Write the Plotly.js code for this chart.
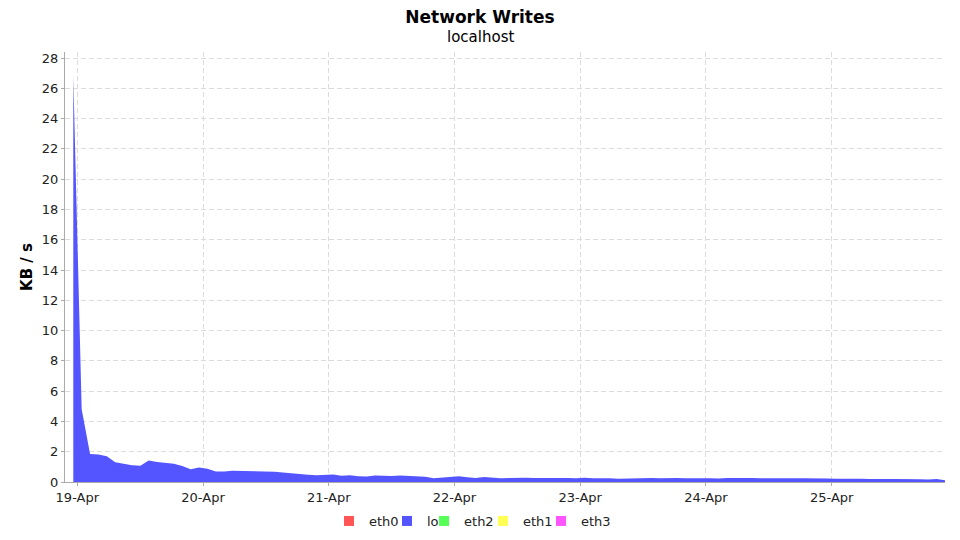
<!DOCTYPE html>
<html>
<head>
<meta charset="utf-8">
<script src="https://cdn.plot.ly/plotly-3.0.1.min.js"></script>
<style>html,body{margin:0;padding:0;background:#fff;}#chart{width:960px;height:540px;}</style>
</head>
<body>
<div id="chart"></div>
<script>
// Sampling grid: first sample time and interval (minutes)
var startTime = '2013-04-18T23:14:00';
var stepMinutes = 96;

// Series names and colours (legend order)
var seriesNames = ['eth0', 'lo', 'eth2', 'eth1', 'eth3'];
var seriesColors = ['#FF5555', '#5555FF', '#55FF55', '#FFFF55', '#FF55FF'];

// lo write rate, KB/s
var loValues = [
  26.8, 4.8, 1.85, 1.82, 1.7, 1.3, 1.2, 1.1, 1.08, 1.42,
  1.32, 1.27, 1.2, 1.05, 0.84, 0.95, 0.88, 0.7, 0.7, 0.75,
  0.74, 0.72, 0.72, 0.7, 0.68, 0.62, 0.56, 0.52, 0.48, 0.45,
  0.47, 0.5, 0.42, 0.44, 0.38, 0.36, 0.43, 0.4, 0.39, 0.43,
  0.4, 0.38, 0.35, 0.25, 0.3, 0.34, 0.38, 0.31, 0.26, 0.33,
  0.27, 0.25, 0.27, 0.3, 0.28, 0.27, 0.28, 0.26, 0.29, 0.27,
  0.25, 0.28, 0.24, 0.26, 0.25, 0.22, 0.24, 0.27, 0.25, 0.27,
  0.25, 0.27, 0.26, 0.25, 0.26, 0.24, 0.25, 0.23, 0.27, 0.26,
  0.24, 0.26, 0.25, 0.26, 0.24, 0.26, 0.25, 0.24, 0.22, 0.2,
  0.23, 0.22, 0.2, 0.22, 0.21, 0.2, 0.22, 0.2, 0.19, 0.2,
  0.22, 0.18, 0.17, 0.19, 0.12
];

// Text
var chartTitle = 'Network Writes';
var chartSubtitle = 'localhost';
var yTitle = 'KB / s';

// Axis settings
var xRange = ['2013-04-18 21:39', '2013-04-25 21:38'];
var yRange = [0, 28.4];

function fmt(d) {
  return d.toISOString().slice(0, 19).replace('T', ' ');
}
var t0 = new Date(startTime + 'Z').getTime();
var times = loValues.map(function (_, i) { return fmt(new Date(t0 + i * stepMinutes * 60000)); });

var traces = [];
traces.push({
  x: times, y: loValues, type: 'scatter', mode: 'lines',
  fill: 'tozeroy', fillcolor: seriesColors[1],
  line: {color: seriesColors[1], width: 0},
  name: 'lo', showlegend: false, hoverinfo: 'x+y'
});

// one small legend per series so the entries sit as in the reference
var legendX = [0.3000, 0.3659, 0.4080, 0.4750, 0.5409];
var layout = {
  width: 960, height: 540,
  paper_bgcolor: '#ffffff', plot_bgcolor: '#ffffff',
  margin: {l: 65, r: 15, t: 52, b: 58, autoexpand: false},
  font: {family: 'DejaVu Sans, sans-serif', size: 13, color: '#222'},
  title: {
    text: '<b>' + chartTitle + '</b>',
    font: {family: 'DejaVu Sans, sans-serif', size: 17, color: '#000'},
    x: 0.5, xanchor: 'center', xref: 'container',
    y: 1 - 17 / 540, yanchor: 'middle', yref: 'container'
  },
  annotations: [{
    text: chartSubtitle, xref: 'paper', yref: 'paper',
    x: 0.4716, y: (482 - 37) / 430, xanchor: 'center', yanchor: 'middle',
    showarrow: false, font: {family: 'DejaVu Sans, sans-serif', size: 15, color: '#000'}
  }],
  xaxis: {
    type: 'date', range: xRange,
    tickformat: '%d-%b', dtick: 86400000, tick0: '2013-04-19',
    showgrid: true, gridcolor: '#dcdcdc', griddash: '5px,3px', gridwidth: 1,
    showline: true, linecolor: '#aaaaaa', linewidth: 1,
    ticks: 'outside', ticklen: 3, tickcolor: '#aaaaaa',
    tickfont: {size: 13, color: '#222'}, zeroline: false
  },
  yaxis: {
    range: yRange, dtick: 2, tick0: 0,
    showgrid: true, gridcolor: '#dcdcdc', griddash: '5px,3px', gridwidth: 1,
    showline: true, linecolor: '#aaaaaa', linewidth: 1,
    ticks: 'outside', ticklen: 3, tickcolor: '#aaaaaa',
    tickfont: {size: 13, color: '#222'}, zeroline: false,
    title: {text: '<b>' + yTitle + '</b>', font: {size: 15, color: '#000'}, standoff: 5}
  },
  showlegend: true
};

seriesNames.forEach(function (n, i) {
  var key = i === 0 ? 'legend' : 'legend' + (i + 1);
  traces.push({
    x: [null], y: [null], type: 'scatter', mode: 'markers',
    marker: {symbol: 'square', size: 10, color: seriesColors[i]},
    name: n, showlegend: true, legend: key
  });
  layout[key] = {
    orientation: 'h', x: legendX[i], xanchor: 'left', xref: 'paper',
    y: -39 / 430, yanchor: 'middle', yref: 'paper',
    font: {size: 13, color: '#222'}, itemwidth: 30,
    bgcolor: 'rgba(0,0,0,0)', borderwidth: 0
  };
});

Plotly.newPlot('chart', traces, layout, {displayModeBar: false, staticPlot: true});
</script>
</body>
</html>
